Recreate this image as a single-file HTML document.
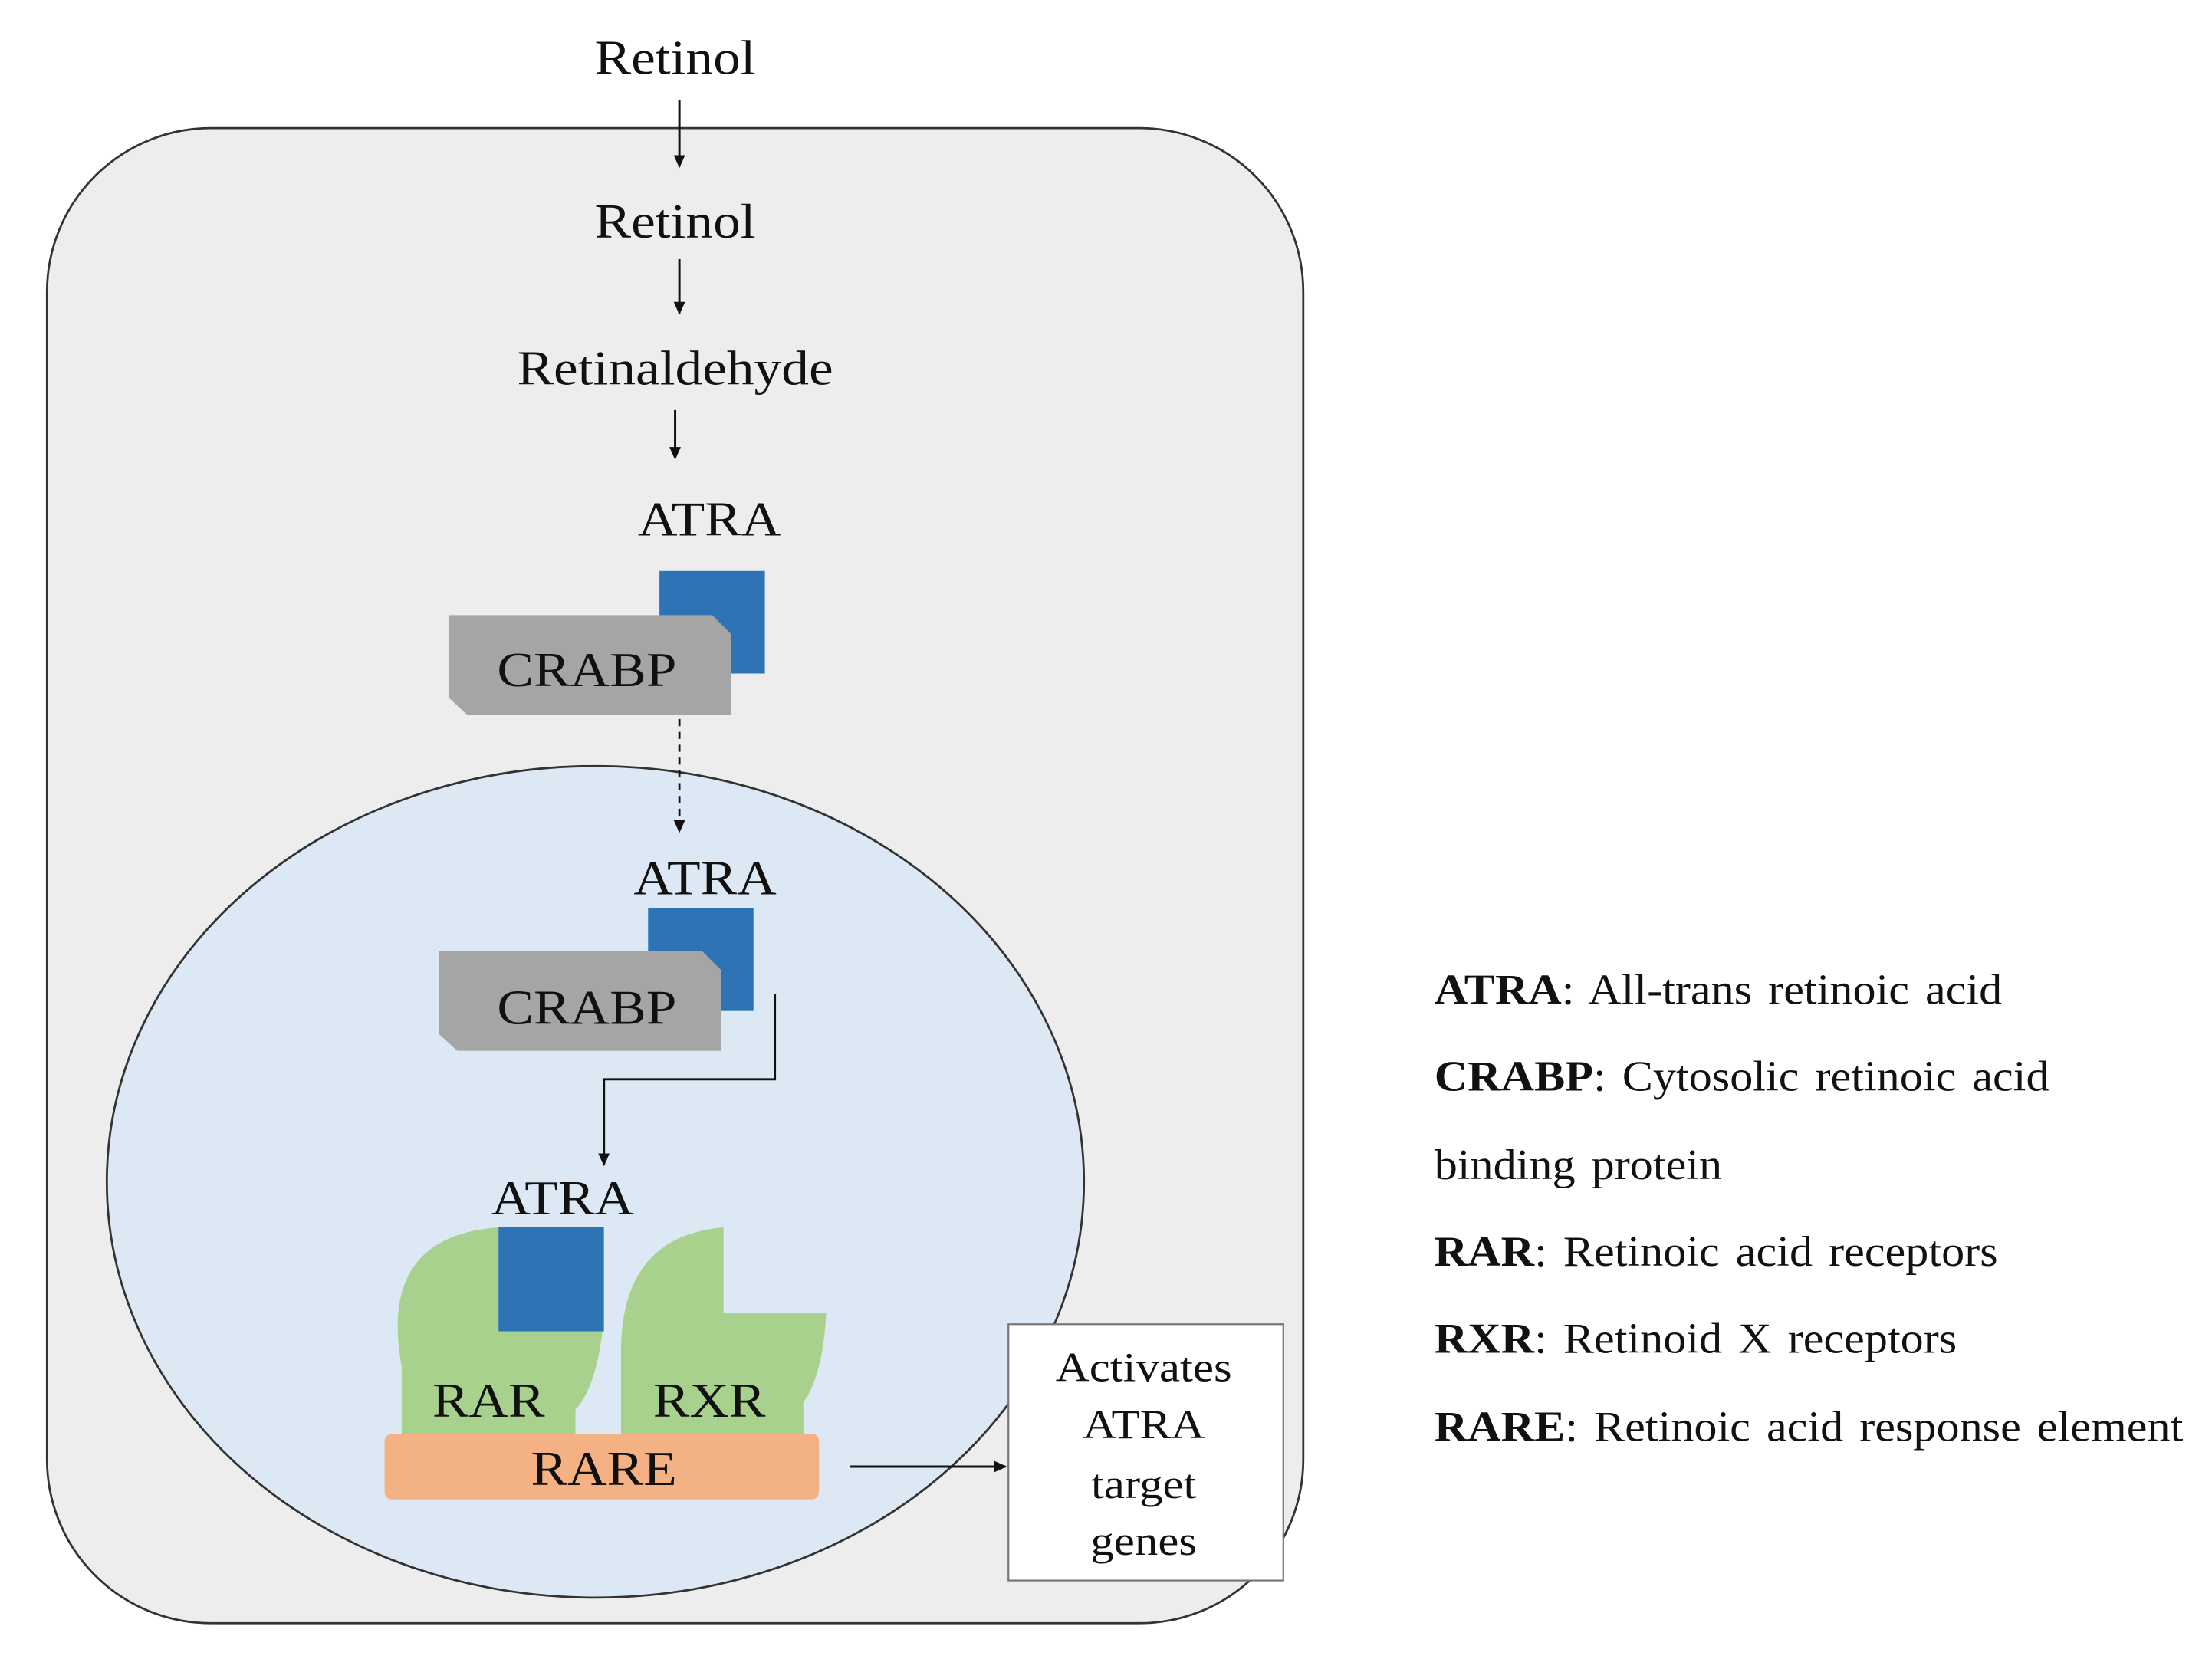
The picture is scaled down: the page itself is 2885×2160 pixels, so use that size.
<!DOCTYPE html>
<html><head><meta charset="utf-8"><style>
html,body{margin:0;padding:0;background:#fff;}
svg{display:block;}
text{font-family:"Liberation Serif",serif;fill:#111;}
</style></head><body>
<svg width="2885" height="2160" viewBox="0 0 1553 1163" preserveAspectRatio="none" xmlns="http://www.w3.org/2000/svg">
<defs>
<marker id="ah" markerWidth="10" markerHeight="10" refX="8" refY="5" orient="auto" markerUnits="userSpaceOnUse">
<path d="M0,1 L9,5 L0,9 Z" fill="#111"/></marker>
</defs>
<text transform="translate(474,52) scale(1.13,1)" font-size="34" text-anchor="middle">Retinol</text>
<rect x="33" y="90" width="882" height="1050" rx="115" ry="115" fill="#ededed" stroke="#333" stroke-width="1.5"/>
<line x1="477" y1="70" x2="477" y2="117" stroke="#111" stroke-width="1.6" marker-end="url(#ah)"/>
<text transform="translate(474,167) scale(1.13,1)" font-size="34" text-anchor="middle">Retinol</text>
<line x1="477" y1="182" x2="477" y2="220" stroke="#111" stroke-width="1.6" marker-end="url(#ah)"/>
<text transform="translate(474,270) scale(1.13,1)" font-size="34" text-anchor="middle">Retinaldehyde</text>
<line x1="474" y1="288" x2="474" y2="322" stroke="#111" stroke-width="1.6" marker-end="url(#ah)"/>
<text transform="translate(498,376) scale(1.13,1)" font-size="34" text-anchor="middle">ATRA</text>
<rect x="463" y="401" width="74" height="72" fill="#2e74b5"/>
<path d="M315,432 L500,432 L513,445 L513,502 L328,502 L315,490 Z" fill="#a5a5a5"/>
<text transform="translate(412,482) scale(1.13,1)" font-size="34" text-anchor="middle">CRABP</text>
<ellipse cx="418" cy="830" rx="343" ry="292" fill="#dde8f5" stroke="#333" stroke-width="1.5"/>
<line x1="477" y1="505" x2="477" y2="584" stroke="#111" stroke-width="1.5" stroke-dasharray="5,4" marker-end="url(#ah)"/>
<text transform="translate(495,628) scale(1.13,1)" font-size="34" text-anchor="middle">ATRA</text>
<rect x="455" y="638" width="74" height="72" fill="#2e74b5"/>
<path d="M308,668 L493,668 L506,681 L506,738 L321,738 L308,726 Z" fill="#a5a5a5"/>
<text transform="translate(412,719) scale(1.13,1)" font-size="34" text-anchor="middle">CRABP</text>
<polyline points="544,698 544,758 424,758 424,818" fill="none" stroke="#111" stroke-width="1.6" marker-end="url(#ah)"/>
<text transform="translate(395,853) scale(1.13,1)" font-size="34" text-anchor="middle">ATRA</text>
<path d="M350,862 L350,935 L423,935 Q418,975 404,990 L404,1010 L282,1010 L282,960 Q265,868 350,862 Z" fill="#a9d18e"/>
<path d="M508,862 L508,922 L580,922 Q578,965 564,985 L564,1010 L436,1010 L436,945 Q438,868 508,862 Z" fill="#a9d18e"/>
<rect x="350" y="862" width="74" height="73" fill="#2e74b5"/>
<text transform="translate(343,995) scale(1.13,1)" font-size="34" text-anchor="middle">RAR</text>
<text transform="translate(498,995) scale(1.13,1)" font-size="34" text-anchor="middle">RXR</text>
<rect x="270" y="1007" width="305" height="46" rx="5" fill="#f4b183"/>
<text transform="translate(424,1043) scale(1.13,1)" font-size="34" text-anchor="middle">RARE</text>
<line x1="597" y1="1030" x2="706" y2="1030" stroke="#111" stroke-width="1.6" marker-end="url(#ah)"/>
<rect x="708" y="930" width="193" height="180" fill="#fff" stroke="#777" stroke-width="1.2"/>
<text transform="translate(803,970) scale(1.13,1)" font-size="29" text-anchor="middle">Activates</text>
<text transform="translate(803,1010) scale(1.13,1)" font-size="29" text-anchor="middle">ATRA</text>
<text transform="translate(803,1052) scale(1.13,1)" font-size="29" text-anchor="middle">target</text>
<text transform="translate(803,1092) scale(1.13,1)" font-size="29" text-anchor="middle">genes</text>
<g font-size="30" word-spacing="3">
<text transform="translate(1007,705) scale(1.08,1)"><tspan font-weight="bold">ATRA</tspan>: All-trans retinoic acid</text>
<text transform="translate(1007,766) scale(1.08,1)"><tspan font-weight="bold">CRABP</tspan>: Cytosolic retinoic acid</text>
<text transform="translate(1007,828) scale(1.08,1)">binding protein</text>
<text transform="translate(1007,889) scale(1.08,1)"><tspan font-weight="bold">RAR</tspan>: Retinoic acid receptors</text>
<text transform="translate(1007,950) scale(1.08,1)"><tspan font-weight="bold">RXR</tspan>: Retinoid X receptors</text>
<text transform="translate(1007,1012) scale(1.08,1)"><tspan font-weight="bold">RARE</tspan>: Retinoic acid response element</text>
</g>
</svg>
</body></html>
